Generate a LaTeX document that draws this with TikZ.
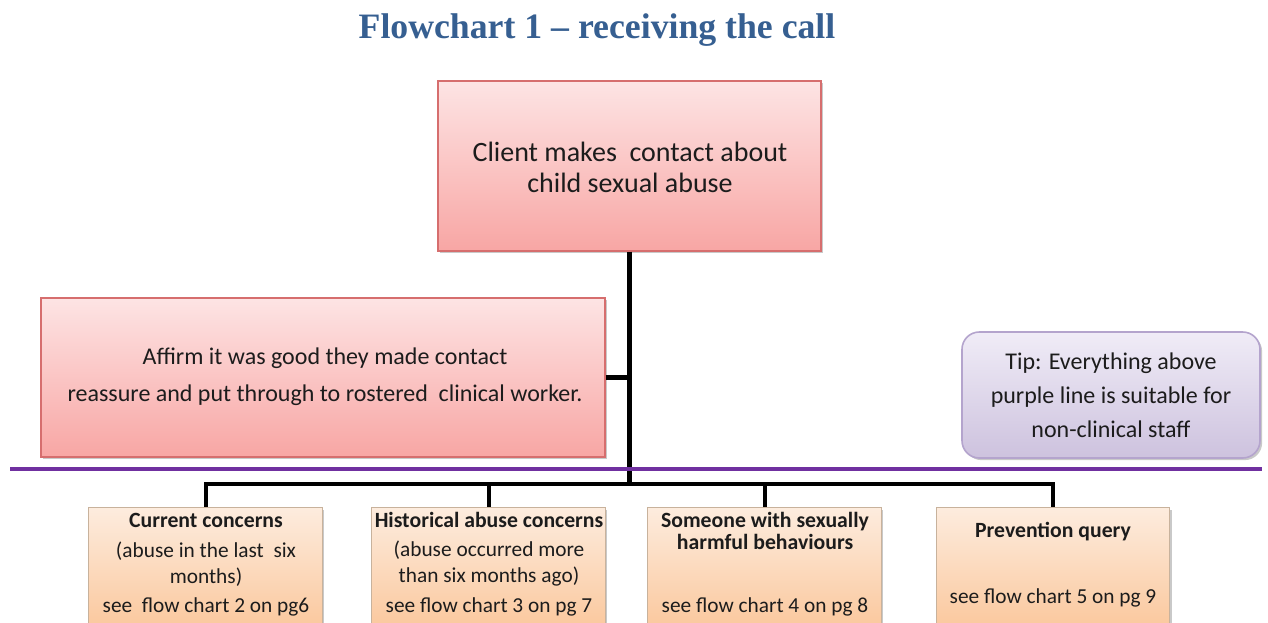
\documentclass[tikz,border=0pt]{standalone}
\usepackage{fontspec}
\setmainfont{Carlito}
\newfontfamily\headfont{Liberation Serif}
\usetikzlibrary{shadows}

\definecolor{headblue}{RGB}{54,95,145}
\definecolor{inkgray}{RGB}{28,28,28}
\definecolor{pinktop}{RGB}{253,228,228}
\definecolor{pinkbot}{RGB}{248,166,164}
\definecolor{pinkline}{RGB}{214,110,110}
\definecolor{peachtop}{RGB}{253,236,222}
\definecolor{peachbot}{RGB}{250,192,143}
\definecolor{peachline}{RGB}{200,178,156}
\definecolor{lavtop}{RGB}{240,236,247}
\definecolor{lavbot}{RGB}{205,194,222}
\definecolor{lavline}{RGB}{180,164,205}
\definecolor{rulepurple}{RGB}{112,48,160}

\tikzset{
  boxshadow/.style={drop shadow={shadow xshift=1.6pt,shadow yshift=-1.6pt,opacity=0.35,fill=black!60}},
  redbox/.style={rectangle,draw=pinkline,line width=0.9pt,top color=pinktop,bottom color=pinkbot,boxshadow,inner sep=0pt},
  peachbox/.style={rectangle,draw=peachline,line width=0.8pt,top color=peachtop,bottom color=peachbot,boxshadow,inner sep=0pt,anchor=north,minimum width=175pt,minimum height=110pt},
  tipbox/.style={rectangle,rounded corners=13pt,draw=lavline,line width=1.2pt,top color=lavtop,bottom color=lavbot,boxshadow,inner sep=0pt},
  conn/.style={draw=black,line width=3.4pt},
  busline/.style={draw=black,line width=3pt},
  txt/.style={text=inkgray,align=center,inner sep=0pt},
  boldtxt/.style={txt,font=\fontsize{16.3}{17}\selectfont\bfseries},
  smalltxt/.style={txt,font=\fontsize{16}{19.5}\selectfont},
}

\begin{document}
\begin{tikzpicture}[x=0.75pt,y=-0.75pt]
\useasboundingbox (0,0) rectangle (1268,622);
\clip (0,0) rectangle (1268,622);
\fill[white] (0,0) rectangle (1268,622);

% heading
\node[text=headblue,font=\headfont\fontsize{26.8}{30}\selectfont\bfseries,inner sep=0pt] (title) at (597,30) {Flowchart 1 – receiving the call};

% upper boxes
\node[redbox,minimum width=287.25pt,minimum height=127.5pt] (contact) at (629.5,166) {};
\node[txt,font=\fontsize{21}{23.25}\selectfont] (contacttxt) at (630,167) {Client makes\ \ contact about\\child sexual abuse};

\node[redbox,minimum width=423pt,minimum height=119.25pt] (affirm) at (323,377.5) {};
\node[txt,font=\fontsize{18}{27.75}\selectfont] (affirmtxt) at (325,377) {Affirm it was good they made contact\\reassure and put through to rostered\ \ clinical worker.};

\node[tipbox,minimum width=223.5pt,minimum height=94.5pt] (tip) at (1111,395) {};
\node[txt,font=\fontsize{18}{25.5}\selectfont] (tiptxt) at (1111,395) {Tip: Everything above\\purple line is suitable for\\non-clinical staff};

% connectors from the contact box
\coordinate (hub) at (629.5,484);
\draw[conn] (contact.south) -- (hub);
\draw[conn] (affirm.east) -- (affirm.east -| contact.south);

% purple divider
\coordinate (ruleL) at (10,469);
\coordinate (ruleR) at (1262,469);
\draw[rulepurple,line width=3.2pt] (ruleL) -- (ruleR);

% lower boxes
\node[peachbox] (current) at (205.5,507) {};
\node[peachbox] (historic) at (488.5,507) {};
\node[peachbox] (harmful) at (764.5,507) {};
\node[peachbox] (prevent) at (1053,507) {};

\draw[busline] (hub) -| (current.north);
\draw[busline] (hub) -| (historic.north);
\draw[busline] (hub) -| (harmful.north);
\draw[busline] (hub) -| (prevent.north);

% lower box texts
\node[boldtxt] (currentT) at (206,520) {Current concerns};
\node[smalltxt] (currentB) at (206,564) {(abuse in the last\ \ six\\months)};
\node[smalltxt] (currentF) at (206,607) {see\ \ flow chart 2 on pg6};

\node[boldtxt] (historicT) at (489,520) {Historical abuse concerns};
\node[smalltxt] (historicB) at (489,564) {(abuse occurred more\\than six months ago)};
\node[smalltxt] (historicF) at (489,607) {see flow chart 3 on pg 7};

\node[boldtxt] (harmfulT) at (765,531) {Someone with sexually\\harmful behaviours};
\node[smalltxt] (harmfulF) at (765,607) {see flow chart 4 on pg 8};

\node[boldtxt] (preventT) at (1053,532) {Prevention query};
\node[smalltxt] (preventF) at (1053,598) {see flow chart 5 on pg 9};
\end{tikzpicture}
\end{document}
